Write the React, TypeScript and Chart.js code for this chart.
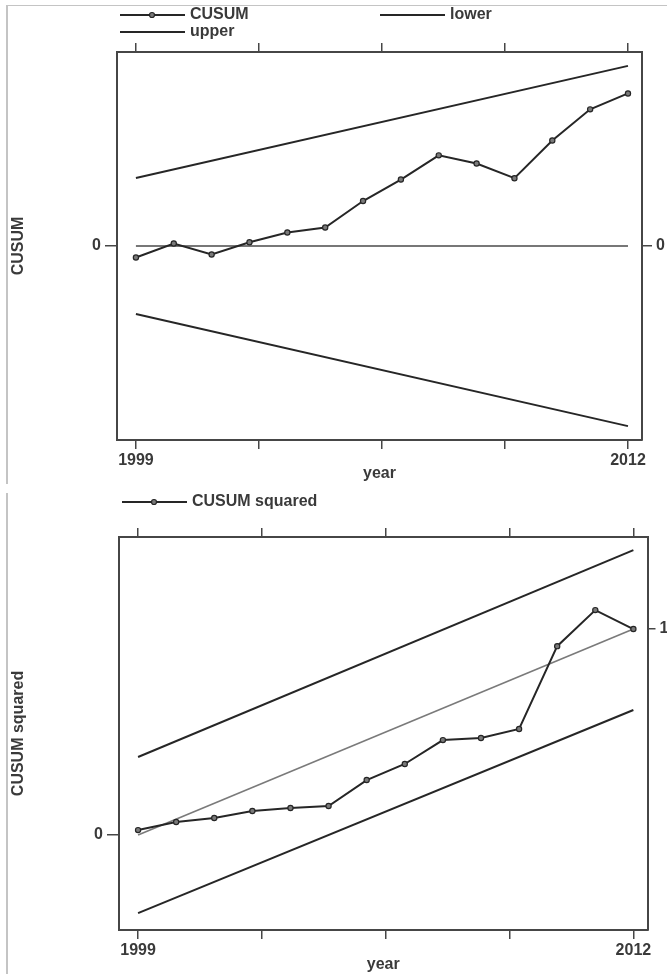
import React, { useEffect, useRef } from "react";
import { Chart, registerables } from "chart.js";

Chart.register(...registerables);

// ---------- data ----------
const years = [1999, 2000, 2001, 2002, 2003, 2004, 2005, 2006, 2007, 2008, 2009, 2010, 2011, 2012];
const cusum = [-0.68, 0.15, -0.5, 0.22, 0.8, 1.09, 2.66, 3.93, 5.36, 4.88, 4.01, 6.24, 8.08, 9.02];
const boundYears = [1999, 2012];
const cusumLower = [-4.02, -10.65];
const cusumUpper = [4.02, 10.65];
const cusumZero = [0, 0];

const cusumSq = [0.024, 0.063, 0.083, 0.117, 0.131, 0.141, 0.267, 0.345, 0.461, 0.471, 0.515, 0.917, 1.092, 1.0];
const sqUpper = [0.379, 1.383];
const sqLower = [-0.379, 0.607];
const sqExpected = [0, 1];

const xTickValues = [1999, 2002.25, 2005.5, 2008.75, 2012];
const xTickLabels = ["1999", "", "", "", "2012"];
const topYTicks = [0];
const topYLabels = ["0"];
const botLeftYTicks = [0];
const botLeftYLabels = ["0"];
const botRightYTicks = [1];
const botRightYLabels = ["1"];

// ---------- styling ----------
const FONT = '"Liberation Sans Narrow", "Liberation Sans", Arial, sans-serif';
const TEXT = "#3a3a3a";
const AXIS = "#464646";
const LINE = "#262626";

const pts = (xs: number[], ys: number[]) => xs.map((x, i) => ({ x, y: ys[i] }));

function labelFrom(values: number[], labels: string[]) {
  return (v: number) => {
    const i = values.findIndex((t) => Math.abs(t - v) < 1e-6);
    return i >= 0 ? labels[i] : "";
  };
}

function xAxis(position: string, min: number, max: number, height: number, showLabels: boolean, titlePadBottom: number) {
  return {
    type: "linear",
    position,
    min,
    max,
    afterBuildTicks: (s: any) => {
      s.ticks = xTickValues.map((v) => ({ value: v }));
    },
    afterFit: (s: any) => {
      s.height = height;
    },
    ticks: {
      display: showLabels,
      autoSkip: false,
      maxRotation: 0,
      padding: 2,
      color: TEXT,
      font: { family: FONT, size: 16, weight: "bold" },
      callback: labelFrom(xTickValues, xTickLabels),
    },
    grid: { display: true, drawOnChartArea: false, drawTicks: true, tickLength: 9, color: AXIS, lineWidth: 1.5 },
    border: { display: true, color: AXIS, width: 2 },
    title: showLabels
      ? {
          display: true,
          text: "year",
          color: TEXT,
          font: { family: FONT, size: 16, weight: "bold" },
          padding: { top: 0, bottom: titlePadBottom },
        }
      : { display: false },
  };
}

function yAxis(
  position: string,
  min: number,
  max: number,
  width: number,
  tickVals: number[],
  tickLabels: string[],
  tickLen: number,
  title: string | null
) {
  return {
    type: "linear",
    position,
    min,
    max,
    afterBuildTicks: (s: any) => {
      s.ticks = tickVals.map((v) => ({ value: v }));
    },
    afterFit: (s: any) => {
      s.width = width;
    },
    ticks: {
      display: true,
      autoSkip: false,
      padding: 4,
      color: TEXT,
      font: { family: FONT, size: 16, weight: "bold" },
      callback: labelFrom(tickVals, tickLabels),
    },
    grid: { display: true, drawOnChartArea: false, drawTicks: true, tickLength: tickLen, color: AXIS, lineWidth: 1.5 },
    border: { display: true, color: AXIS, width: 2 },
    title: title
      ? {
          display: true,
          text: title,
          color: TEXT,
          font: { family: FONT, size: 16, weight: "bold" },
          padding: { top: 9, bottom: 0 },
        }
      : { display: false },
  };
}

type LegendItem = { index: number; x: number; y: number; marker: boolean };

function legendPlugin(items: LegendItem[]) {
  return {
    id: "stataLegend",
    afterDraw(chart: any) {
      const ctx = chart.ctx as CanvasRenderingContext2D;
      ctx.save();
      items.forEach((it) => {
        const ds = chart.data.datasets[it.index];
        ctx.strokeStyle = ds.borderColor;
        ctx.lineWidth = 2;
        ctx.beginPath();
        ctx.moveTo(it.x, it.y);
        ctx.lineTo(it.x + 65, it.y);
        ctx.stroke();
        if (it.marker) {
          ctx.beginPath();
          ctx.arc(it.x + 32, it.y, 2.5, 0, Math.PI * 2);
          ctx.fillStyle = "#7a7a7a";
          ctx.fill();
          ctx.lineWidth = 1.2;
          ctx.stroke();
        }
        ctx.fillStyle = TEXT;
        ctx.font = `bold 16px ${FONT}`;
        ctx.textBaseline = "middle";
        ctx.textAlign = "left";
        ctx.fillText(ds.label, it.x + 70, it.y);
      });
      ctx.restore();
    },
  };
}

const markerStyle = {
  pointRadius: 2.6,
  pointStyle: "circle",
  pointBackgroundColor: "#7a7a7a",
  pointBorderColor: LINE,
  pointBorderWidth: 1.2,
};

const X_MIN = 1998.5;
const X_MAX = 2012.37;

function topConfig(): any {
  const YM = 11.47;
  return {
    type: "line",
    data: {
      datasets: [
        { label: "CUSUM", data: pts(years, cusum), borderColor: LINE, borderWidth: 2, ...markerStyle },
        { label: "lower", data: pts(boundYears, cusumLower), borderColor: LINE, borderWidth: 2, pointRadius: 0 },
        { label: "upper", data: pts(boundYears, cusumUpper), borderColor: LINE, borderWidth: 2, pointRadius: 0 },
        { label: "zero", data: pts(boundYears, cusumZero), borderColor: "#4a4a4a", borderWidth: 1.5, pointRadius: 0 },
      ],
    },
    options: {
      responsive: false,
      animation: false,
      layout: { padding: 0 },
      plugins: { legend: { display: false }, tooltip: { enabled: false } },
      scales: {
        x: xAxis("bottom", X_MIN, X_MAX, 47, true, 4),
        x2: xAxis("top", X_MIN, X_MAX, 52, false, 0),
        y: yAxis("left", -YM, YM, 117, topYTicks, topYLabels, 12, "CUSUM"),
        y2: yAxis("right", -YM, YM, 25, topYTicks, topYLabels, 10, null),
      },
    },
    plugins: [
      legendPlugin([
        { index: 0, x: 120, y: 15, marker: true },
        { index: 1, x: 380, y: 15, marker: false },
        { index: 2, x: 120, y: 32, marker: false },
      ]),
    ],
  };
}

function bottomConfig(): any {
  return {
    type: "line",
    data: {
      datasets: [
        { label: "CUSUM squared", data: pts(years, cusumSq), borderColor: LINE, borderWidth: 2, ...markerStyle },
        { label: "upper", data: pts(boundYears, sqUpper), borderColor: LINE, borderWidth: 2, pointRadius: 0 },
        { label: "lower", data: pts(boundYears, sqLower), borderColor: LINE, borderWidth: 2, pointRadius: 0 },
        { label: "expected", data: pts(boundYears, sqExpected), borderColor: "#7a7a7a", borderWidth: 1.6, pointRadius: 0 },
      ],
    },
    options: {
      responsive: false,
      animation: false,
      layout: { padding: 0 },
      plugins: { legend: { display: false }, tooltip: { enabled: false } },
      scales: {
        x: xAxis("bottom", X_MIN, X_MAX, 44, true, 0),
        x2: xAxis("top", X_MIN, X_MAX, 50, false, 0),
        y: yAxis("left", -0.461, 1.447, 119, botLeftYTicks, botLeftYLabels, 12, "CUSUM squared"),
        y2: yAxis("right", -0.461, 1.447, 19.5, botRightYTicks, botRightYLabels, 8, null),
      },
    },
    plugins: [legendPlugin([{ index: 0, x: 122, y: 15, marker: true }])],
  };
}

export default function App() {
  const topRef = useRef<HTMLCanvasElement>(null);
  const botRef = useRef<HTMLCanvasElement>(null);

  useEffect(() => {
    const c1 = new Chart(topRef.current as HTMLCanvasElement, topConfig());
    const c2 = new Chart(botRef.current as HTMLCanvasElement, bottomConfig());
    return () => {
      c1.destroy();
      c2.destroy();
    };
  }, []);

  return (
    <div style={{ position: "absolute", left: 0, top: 0, width: 667, height: 974, background: "#fff", overflow: "hidden" }}>
      <div
        style={{
          position: "absolute",
          left: 6,
          top: 5,
          width: 661,
          height: 479,
          borderTop: "1.5px solid #c4c4c4",
          borderLeft: "2px solid #c4c4c4",
          boxSizing: "border-box",
        }}
      />
      <div style={{ position: "absolute", left: 6, top: 493, width: 2, height: 481, background: "#c4c4c4" }} />
      <div style={{ position: "absolute", left: 0, top: 0, width: 667, height: 487 }}>
        <canvas ref={topRef} width={667} height={487} style={{ width: 667, height: 487, display: "block" }} />
      </div>
      <div style={{ position: "absolute", left: 0, top: 487, width: 667, height: 487 }}>
        <canvas ref={botRef} width={667} height={487} style={{ width: 667, height: 487, display: "block" }} />
      </div>
    </div>
  );
}
